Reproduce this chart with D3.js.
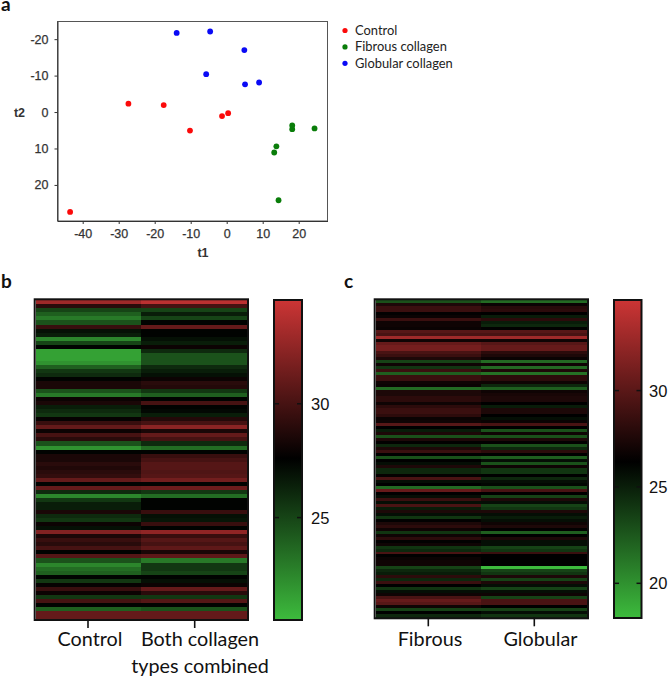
<!DOCTYPE html>
<html>
<head>
<meta charset="utf-8">
<script src="https://cdn.jsdelivr.net/npm/d3@7"></script>
<style>
  html, body { margin: 0; padding: 0; background: #fff; overflow: hidden; }
  text { font-family: "Liberation Sans", Arial, sans-serif; }
  .cal { font-family: Lato, sans-serif; }
</style>
</head>
<body>
<svg id="stage" width="668" height="678"></svg>
<script>
// panel a, t-SNE scores
const control_t1 = [-43.5, -27.3, -17.5, -10.2, -1.3, 0.4];
const control_t2 = [27.4, -2.3, -1.9, 5.1, 1.1, 0.3];
const fibrous_t1 = [14.4, 13.2, 13.8, 18.2, 18.2, 24.4];
const fibrous_t2 = [24.2, 11.1, 9.4, 4.7, 3.7, 4.5];
const globular_t1 = [-13.9, -4.6, 4.9, -5.7, 5.1, 9.0];
const globular_t2 = [-21.7, -22.1, -17.0, -10.4, -7.6, -8.1];
const legend_labels = ['Control', 'Fibrous collagen', 'Globular collagen'];
const t1_ticks = [-40, -30, -20, -10, 0, 10, 20];
const t2_ticks = [-20, -10, 0, 10, 20];

// panel b, one value per row
const b_control = [33, 29, 25, 24, 23, 24.5, 29.5, 27, 26.5, 22.5, 25, 27.5, 21.5, 21.5, 21.5, 22, 24, 25.5, 26, 27.5,
  28.5, 28.5, 24.5, 23, 28, 28.5, 26.5, 26, 25.5, 27.8, 29.5, 31, 28, 30, 29, 24.5, 22, 27.5, 28.5, 28.5,
  29, 28.7, 29, 29.3, 31, 27.5, 31, 26, 22.5, 25.5, 26.5, 26.5, 28.5, 26, 25.5, 28, 27, 32, 28.5, 29.5,
  29, 30, 27.5, 30.5, 24.5, 22.5, 23.5, 24, 27.5, 25.5, 27.8, 29.5, 28, 25.5, 30, 27.5, 24, 31, 31];
const b_combined = [34, 30, 25, 26.5, 25, 27.5, 31, 27.5, 27.5, 27, 26.5, 28, 26, 24.5, 24.5, 24.5, 26, 26.5, 27, 28,
  29, 28.8, 25.5, 24, 27.5, 30, 27.5, 27.3, 26.5, 28.8, 30, 32.3, 28.5, 31, 30, 26, 23.5, 27.5, 29.5, 30,
  30.5, 30.5, 30.3, 30.5, 31.5, 27.5, 31.3, 25.5, 23.5, 27.5, 27.5, 27.5, 29.5, 27, 26.8, 29.5, 27.5, 32.5, 29.5, 30.5,
  30, 30.8, 28.5, 30.8, 23, 25.5, 25.5, 25, 27.5, 27, 28, 31, 29, 25.5, 30.5, 27.5, 24.5, 31, 31];
const b_labels = ['Control', 'Both collagen'];
const b_ticks = [25, 30];

// panel c, one value per row
const c_fibrous = [22.8, 27.5, 28.7, 28.7, 26.4, 26.7, 28.7, 26.9, 26.9, 26.7, 29.9, 29.3, 32.9, 26.9, 30.5, 31.1, 31.1, 29.3, 28.7, 27.5,
  23.4, 26.9, 24, 28.7, 22.25, 28.7, 28.7, 26.9, 26.7, 21.7, 27.5, 27.5, 28.1, 28.1, 26.9, 28.1, 28.7, 28.7, 28.1, 26.7,
  26.9, 29.9, 26.3, 25.1, 27.5, 22.8, 27.5, 26.4, 24.6, 27.5, 28.7, 26.3, 22.8, 26.3, 25.7, 27.5, 24.6, 24.6, 26.5, 29.3,
  25.7, 26.3, 21.7, 30.5, 26.3, 25.7, 28.7, 25.7, 29.3, 25.1, 27.5, 25.7, 24, 26.4, 27.5, 28.1, 26.9, 24, 26.9, 28.1,
  26.4, 26.9, 24, 24.6, 29.3, 26.3, 26.7, 26.9, 26.9, 23.4, 24.6, 25.1, 28.1, 24.6, 28.7, 26.3, 24, 25.7, 26.9, 29.3,
  30.5, 29.9, 26.9, 23.4, 26.3, 24.6];
const c_globular = [21.7, 26.7, 27.9, 28.1, 26.3, 25.1, 28.1, 25.1, 24.6, 26.4, 29.9, 29.3, 32.9, 26.9, 29.9, 30.5, 30.5, 28.1, 27.5, 26.7,
  21.7, 26.9, 21.7, 27.5, 21.4, 28.1, 28.1, 26.9, 24.6, 22.25, 26.9, 27.3, 27.5, 27.5, 26.3, 25.1, 27.5, 27.5, 26.3, 25.7,
  26.7, 29.3, 26.3, 22.8, 26.9, 22.8, 27.5, 26.4, 22.8, 24.6, 28.1, 26.3, 22.25, 25.7, 22.8, 26.9, 24, 24, 26.3, 24.6,
  25.7, 26, 22.8, 29.3, 26.3, 23.4, 27.5, 25.7, 23.4, 24, 27.5, 25.7, 25.1, 25.7, 26.9, 27.5, 26.4, 22.25, 26.3, 27.5,
  25.7, 25.7, 23.4, 24, 28.7, 26.3, 26.3, 26.3, 26.3, 18.2, 23.4, 24, 27.5, 23.4, 27.5, 25.7, 23.4, 25.7, 26.9, 23.4,
  29.3, 29.3, 26.3, 23.4, 25.7, 24];
const c_labels = ['Fibrous', 'Globular'];
const c_ticks = [20, 25, 30];

const heat_colors = ['#3dbb3d', '#000000', '#cc3535'];

const svg = d3.select('#stage');

// panel letters
const letters = [['a', 1, 11], ['b', 1, 288], ['c', 344, 288]];
svg.selectAll('text.letter').data(letters).join('text')
  .attr('class', 'letter cal')
  .attr('x', d => d[1]).attr('y', d => d[2])
  .attr('font-size', 19).attr('font-weight', 700).attr('fill', '#111')
  .text(d => d[0]);

// ---- panel a
const x = d3.scaleLinear([-47, 28], [57.5, 327.5]);
const y = d3.scaleLinear([-24.9, 29.9], [21.3, 221]);

const groups = [
  { color: '#fb0a0a', t1: control_t1, t2: control_t2 },
  { color: '#0a7d0a', t1: fibrous_t1, t2: fibrous_t2 },
  { color: '#0a0af5', t1: globular_t1, t2: globular_t2 },
];

svg.append('rect')
  .attr('x', 57.5).attr('y', 21.5).attr('width', 270).attr('height', 199.5)
  .attr('fill', 'none').attr('stroke', '#555').attr('stroke-width', 1);

const style_axis = (g) => {
  g.selectAll('path').attr('stroke', '#333');
  g.selectAll('line').attr('stroke', '#333');
  g.selectAll('text')
    .attr('font-size', 12.5).attr('fill', '#333')
    .attr('stroke', '#333').attr('stroke-width', 0.25);
};

svg.append('g')
  .attr('transform', 'translate(0,221)')
  .call(d3.axisBottom(x).tickValues(t1_ticks).tickSizeInner(3).tickSizeOuter(0).tickPadding(5).tickFormat(d => String(d)))
  .call(style_axis);
svg.append('g')
  .attr('transform', 'translate(57.5,0)')
  .call(d3.axisLeft(y).tickValues(t2_ticks).tickSizeInner(3).tickSizeOuter(0).tickPadding(6).tickFormat(d => String(d)))
  .call(style_axis);

svg.append('text').attr('x', 203).attr('y', 257).attr('text-anchor', 'middle')
  .attr('font-size', 12.5).attr('font-weight', 700).attr('fill', '#333').text('t1');
svg.append('text').attr('x', 19.5).attr('y', 116.5).attr('text-anchor', 'middle')
  .attr('font-size', 12.5).attr('font-weight', 700).attr('fill', '#333').text('t2');

groups.forEach(({ color, t1, t2 }) => {
  svg.append('g').selectAll('circle').data(t1).join('circle')
    .attr('cx', d => x(d))
    .attr('cy', (d, i) => y(t2[i]))
    .attr('r', 2.9)
    .attr('fill', color);
});

const legend = svg.append('g').selectAll('g').data(legend_labels).join('g')
  .attr('transform', (d, i) => `translate(345,${30.5 + i * 16.4})`);
legend.append('circle').attr('r', 2.6).attr('fill', (d, i) => groups[i].color);
legend.append('text').attr('class', 'cal')
  .attr('x', 10).attr('y', 4.5)
  .attr('font-size', 12.9).attr('fill', '#222')
  .text(d => d);

// ---- panels b and c
function heatmap({ left, mid, right, top, bottom, columns, labels, label_x, tick_x, color }) {
  const row = d3.scaleBand(d3.range(columns[0].length), [top, bottom]);
  const col = [[left, mid], [mid, right]];
  const g = svg.append('g').attr('shape-rendering', 'crispEdges');
  columns.forEach((values, c) => {
    g.append('g').selectAll('rect').data(values).join('rect')
      .attr('x', col[c][0])
      .attr('width', col[c][1] - col[c][0])
      .attr('y', (d, i) => row(i))
      .attr('height', row.bandwidth() + 0.5)
      .attr('fill', d => color(d));
  });
  svg.append('rect')
    .attr('x', left - 1).attr('y', top - 1)
    .attr('width', right - left + 2).attr('height', bottom - top + 2)
    .attr('fill', 'none').attr('stroke', '#111').attr('stroke-width', 2);
  tick_x.forEach(tx => {
    svg.append('line').attr('x1', tx).attr('x2', tx)
      .attr('y1', bottom).attr('y2', bottom + 9)
      .attr('stroke', '#111').attr('stroke-width', 1.6);
  });
  labels.forEach((t, i) => {
    svg.append('text').attr('class', 'cal')
      .attr('x', label_x[i]).attr('y', 646)
      .attr('text-anchor', 'middle').attr('font-size', 19.8).attr('fill', '#111')
      .text(t);
  });
}

function colorbar({ id, left, right, top, bottom, domain, ticks, label_x }) {
  const value_bottom = domain[0];
  const value_top = domain[2];
  const bar = d3.scaleLinear([value_bottom, value_top], [bottom, top]);
  const color = d3.scaleLinear(domain, heat_colors);
  const grad = svg.append('defs').append('linearGradient')
    .attr('id', id).attr('x1', 0).attr('x2', 0).attr('y1', 1).attr('y2', 0);
  grad.selectAll('stop').data(domain).join('stop')
    .attr('offset', d => (d - value_bottom) / (value_top - value_bottom))
    .attr('stop-color', d => color(d));
  svg.append('rect')
    .attr('x', left).attr('y', top)
    .attr('width', right - left).attr('height', bottom - top)
    .attr('fill', `url(#${id})`).attr('stroke', '#111').attr('stroke-width', 2);
  ticks.forEach(t => {
    [[left, left + 5], [right - 5, right]].forEach(([a, b]) => {
      svg.append('line').attr('x1', a).attr('x2', b)
        .attr('y1', bar(t)).attr('y2', bar(t))
        .attr('stroke', '#111').attr('stroke-width', 1.5);
    });
    svg.append('text')
      .attr('x', label_x).attr('y', bar(t) + 6)
      .attr('font-size', 16.5).attr('fill', '#111')
      .text(t);
  });
}

const b_domain = [20.5, 27.6, 34.56];
const c_domain = [18.2, 26.3, 34.7];

heatmap({
  left: 35.7, mid: 140.7, right: 247, top: 300.3, bottom: 619,
  columns: [b_control, b_combined],
  labels: b_labels, label_x: [90, 200], tick_x: [88, 194.7],
  color: d3.scaleLinear(b_domain, heat_colors),
});
svg.append('text').attr('class', 'cal')
  .attr('x', 200).attr('y', 673)
  .attr('text-anchor', 'middle').attr('font-size', 19.8).attr('fill', '#111')
  .text('types combined');

heatmap({
  left: 375.7, mid: 481, right: 587, top: 300.3, bottom: 617.3,
  columns: [c_fibrous, c_globular],
  labels: c_labels, label_x: [430, 540.5], tick_x: [428.3, 534.3],
  color: d3.scaleLinear(c_domain, heat_colors),
});

colorbar({
  id: 'bar-b', left: 274, right: 302, top: 300, bottom: 620,
  domain: b_domain, ticks: b_ticks, label_x: 311,
});
colorbar({
  id: 'bar-c', left: 614, right: 641.5, top: 300, bottom: 618,
  domain: c_domain, ticks: c_ticks, label_x: 649,
});
</script>
</body>
</html>
